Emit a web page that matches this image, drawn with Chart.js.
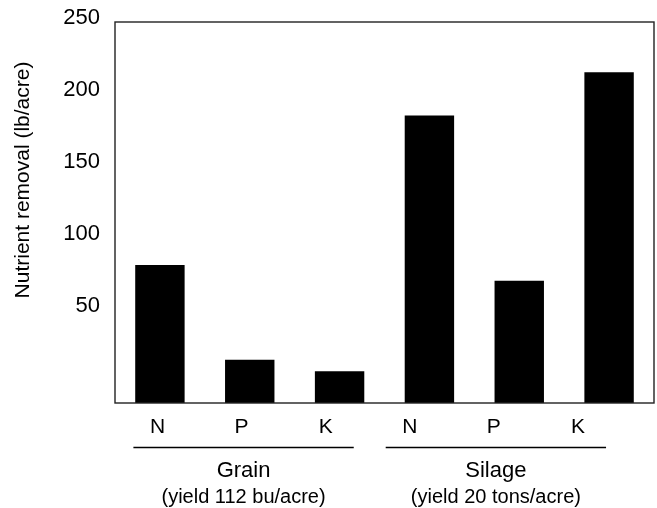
<!DOCTYPE html>
<html>
<head>
<meta charset="utf-8">
<script src="https://cdn.jsdelivr.net/npm/chart.js@4"></script>
<style>
  html, body { margin: 0; padding: 0; background: #fff; }
  #wrap { width: 657px; height: 508px; position: relative; }
</style>
</head>
<body>
<div id="wrap"><canvas id="chart"></canvas></div>
<script>
// nutrient removal by corn, lb/acre
const CATEGORIES = ['N', 'P', 'K', 'N', 'P', 'K'];
const REMOVAL = [81, 15, 7, 185, 70, 215];
const GROUPS = ['Grain', 'Silage'];
const GROUP_NOTES = ['(yield 112 bu/acre)', '(yield 20 tons/acre)'];
const GROUP_CENTER = [1, 4];          // index of the middle category in each group
const Y_TICKS = [50, 100, 150, 200, 250];
const Y_MIN = -15;
const Y_MAX = 250;
const Y_TITLE = 'Nutrient removal (lb/acre)';

const FONT = "'Liberation Sans', Arial, Helvetica, sans-serif";
// the letter row is spaced a little tighter than the bars, so it gets its own axis
const LETTER_RANGE = [-0.505, 5.904];

// box round the plot, axis title and group captions under the letters
const decorations = {
  id: 'decorations',
  afterDraw(chart) {
    const { ctx, chartArea: a, scales } = chart;
    ctx.save();
    ctx.strokeStyle = '#222';
    ctx.lineWidth = 1.4;
    ctx.strokeRect(a.left, a.top, a.right - a.left, a.bottom - a.top);

    ctx.fillStyle = '#000';
    ctx.textAlign = 'center';
    ctx.textBaseline = 'middle';
    ctx.font = `21px ${FONT}`;
    ctx.translate(23, 180);
    ctx.rotate(-Math.PI / 2);
    ctx.fillText(Y_TITLE, 0, 0);
    ctx.restore();

    const lx = scales.lx;
    const unit = lx.getPixelForValue(1) - lx.getPixelForValue(0);
    ctx.save();
    ctx.fillStyle = '#000';
    ctx.strokeStyle = '#000';
    ctx.lineWidth = 1.3;
    ctx.textAlign = 'center';
    ctx.textBaseline = 'alphabetic';
    GROUPS.forEach((g, i) => {
      const cx = lx.getPixelForValue(GROUP_CENTER[i]) + 2;
      ctx.beginPath();
      ctx.moveTo(cx - unit * 1.31, 447.5);
      ctx.lineTo(cx + unit * 1.31, 447.5);
      ctx.stroke();
      ctx.font = `22px ${FONT}`;
      ctx.fillText(g, cx, 477);
      ctx.font = `20px ${FONT}`;
      ctx.fillText(GROUP_NOTES[i], cx, 503);
    });
    ctx.restore();
  }
};

new Chart(document.getElementById('chart'), {
  type: 'bar',
  data: {
    labels: CATEGORIES,
    datasets: [{
      data: REMOVAL,
      base: Y_MIN,
      backgroundColor: '#000',
      borderWidth: 0,
      categoryPercentage: 1,
      barPercentage: 0.55,
    }],
  },
  options: {
    responsive: true,
    maintainAspectRatio: false,
    animation: false,
    layout: { padding: { top: 22, right: 3, left: 0, bottom: 0 } },
    plugins: {
      legend: { display: false },
      tooltip: { enabled: false },
    },
    scales: {
      x: { display: false },
      lx: {
        type: 'linear',
        position: 'bottom',
        offset: false,
        grid: { display: false, drawTicks: false, offset: false },
        border: { display: false },
        ticks: {
          stepSize: 1,
          autoSkip: false,
          maxRotation: 0,
          padding: 12,
          color: '#000',
          font: { family: FONT, size: 21 },
          callback: v => (Number.isInteger(v) && CATEGORIES[v]) ? CATEGORIES[v] : '',
        },
        afterDataLimits: s => { s.min = LETTER_RANGE[0]; s.max = LETTER_RANGE[1]; },
        afterBuildTicks: s => {
          s.min = LETTER_RANGE[0];
          s.max = LETTER_RANGE[1];
          s.ticks = s.ticks.filter(t => t.value >= s.min && t.value <= s.max);
        },
        afterFit: s => { s.height = 105; s.paddingLeft = 0; s.paddingRight = 0; },
      },
      y: {
        min: Y_MIN,
        max: Y_MAX,
        grid: { display: false, drawTicks: false },
        border: { display: false },
        ticks: {
          stepSize: 50,
          padding: 15,
          labelOffset: -4,
          color: '#000',
          font: { family: FONT, size: 22 },
          callback: v => Y_TICKS.includes(v) ? v : '',
        },
        afterFit: s => { s.width = 115; s.paddingTop = 0; s.paddingBottom = 0; },
      },
    },
  },
  plugins: [decorations],
});
</script>
</body>
</html>
